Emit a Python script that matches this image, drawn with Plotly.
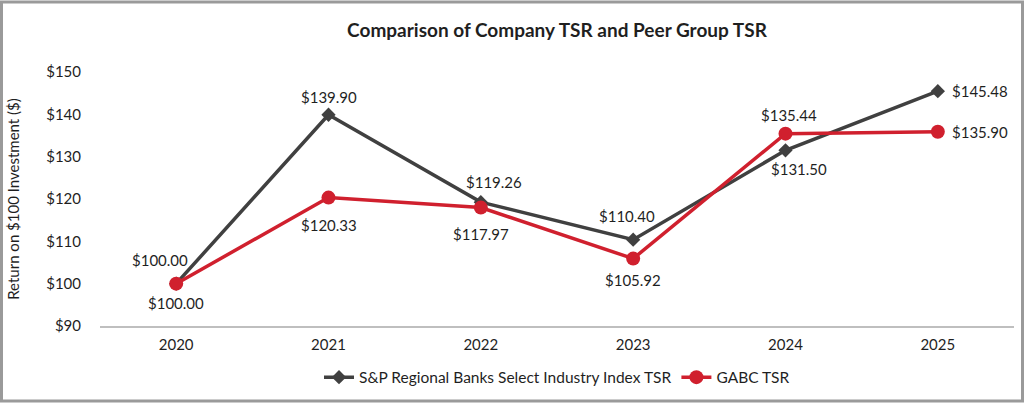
import plotly.graph_objects as go

years = [2020, 2021, 2022, 2023, 2024, 2025]
index_tsr = [100.00, 139.90, 119.26, 110.40, 131.50, 145.48]
gabc_tsr = [100.00, 120.33, 117.97, 105.92, 135.44, 135.90]
index_name = "S&P Regional Banks Select Industry Index TSR"
gabc_name = "GABC TSR"
y_ticks = [90, 100, 110, 120, 130, 140, 150]

# label offsets in pixels (dx right, dy down) and anchor
index_lbl = [(-16, -24, "center"), (0, -18, "center"), (13, -20, "center"),
             (-6, -24, "center"), (13, 19, "center"), (12, 0, "left")]
gabc_lbl = [(0, 19, "center"), (0, 27, "center"), (0, 26, "center"),
            (0, 21, "center"), (3, -19, "center"), (12, 0, "left")]

FONT = "Lato"
W, H = 1024, 405
ML, MR, MT, MB = 100, 10, 72, 77
TXT = "#1f1f1f"

fig = go.Figure()
fig.add_trace(go.Scatter(
    x=years, y=index_tsr, name=index_name, mode="lines+markers",
    line=dict(color="#404040", width=3.5),
    marker=dict(symbol="diamond", size=11, color="#404040"),
))
fig.add_trace(go.Scatter(
    x=years, y=gabc_tsr, name=gabc_name, mode="lines+markers",
    line=dict(color="#D0202E", width=3.5),
    marker=dict(symbol="circle", size=14, color="#D0202E"),
))

for vals, offs in ((index_tsr, index_lbl), (gabc_tsr, gabc_lbl)):
    for yr, v, (dx, dy, anc) in zip(years, vals, offs):
        fig.add_annotation(x=yr, y=v, xref="x", yref="y", text="$" + f"{v:.2f}",
                           showarrow=False, xanchor=anc, yanchor="middle",
                           xshift=dx, yshift=-dy,
                           font=dict(family=FONT, size=15, color=TXT))

pw = W - ML - MR
ph = H - MT - MB
fig.add_shape(type="rect", xref="paper", yref="paper",
              x0=(-ML + 1.5) / pw, x1=(W - ML - 1.5) / pw,
              y0=(-MB + 1.5) / ph, y1=(H - MB - 1.5) / ph,
              line=dict(color="#9a9a9a", width=3), fillcolor="rgba(0,0,0,0)", layer="below")

fig.update_layout(
    width=W, height=H,
    margin=dict(l=ML, r=MR, t=MT, b=MB),
    paper_bgcolor="white", plot_bgcolor="white",
    font=dict(family=FONT, size=15, color=TXT),
    title=dict(text="<b>Comparison of Company TSR and Peer Group TSR</b>",
               x=0.5, xref="paper", xanchor="center", y=1 - 30 / H, yanchor="middle",
               font=dict(family=FONT, size=19, color=TXT)),
    xaxis=dict(type="linear", tickvals=years, ticktext=[str(y) for y in years],
               showgrid=False, showline=True, linecolor="#bfbfbf", linewidth=1.5,
               zeroline=False, ticks="outside", ticklen=4, tickcolor="rgba(0,0,0,0)",
               tickfont=dict(family=FONT, size=15), range=[years[0] - 0.5, years[-1] + 0.5]),
    yaxis=dict(range=[90, 150], tickvals=y_ticks, ticktext=["$" + str(v) for v in y_ticks],
               showgrid=False, showline=False, zeroline=False,
               ticks="outside", ticklen=15, tickcolor="rgba(0,0,0,0)",
               tickfont=dict(family=FONT, size=15),
               title=dict(text="Return on $100 Investment ($)", standoff=22,
                          font=dict(family=FONT, size=15))),
    showlegend=True,
    legend=dict(orientation="h", x=0.5, xanchor="center", y=-52 / ph, yanchor="middle",
                font=dict(family=FONT, size=15.5), tracegroupgap=0),
)

fig.write_html("out.html", config={"displayModeBar": False},
               post_script="document.body.style.margin='0';document.body.style.overflow='hidden';")
